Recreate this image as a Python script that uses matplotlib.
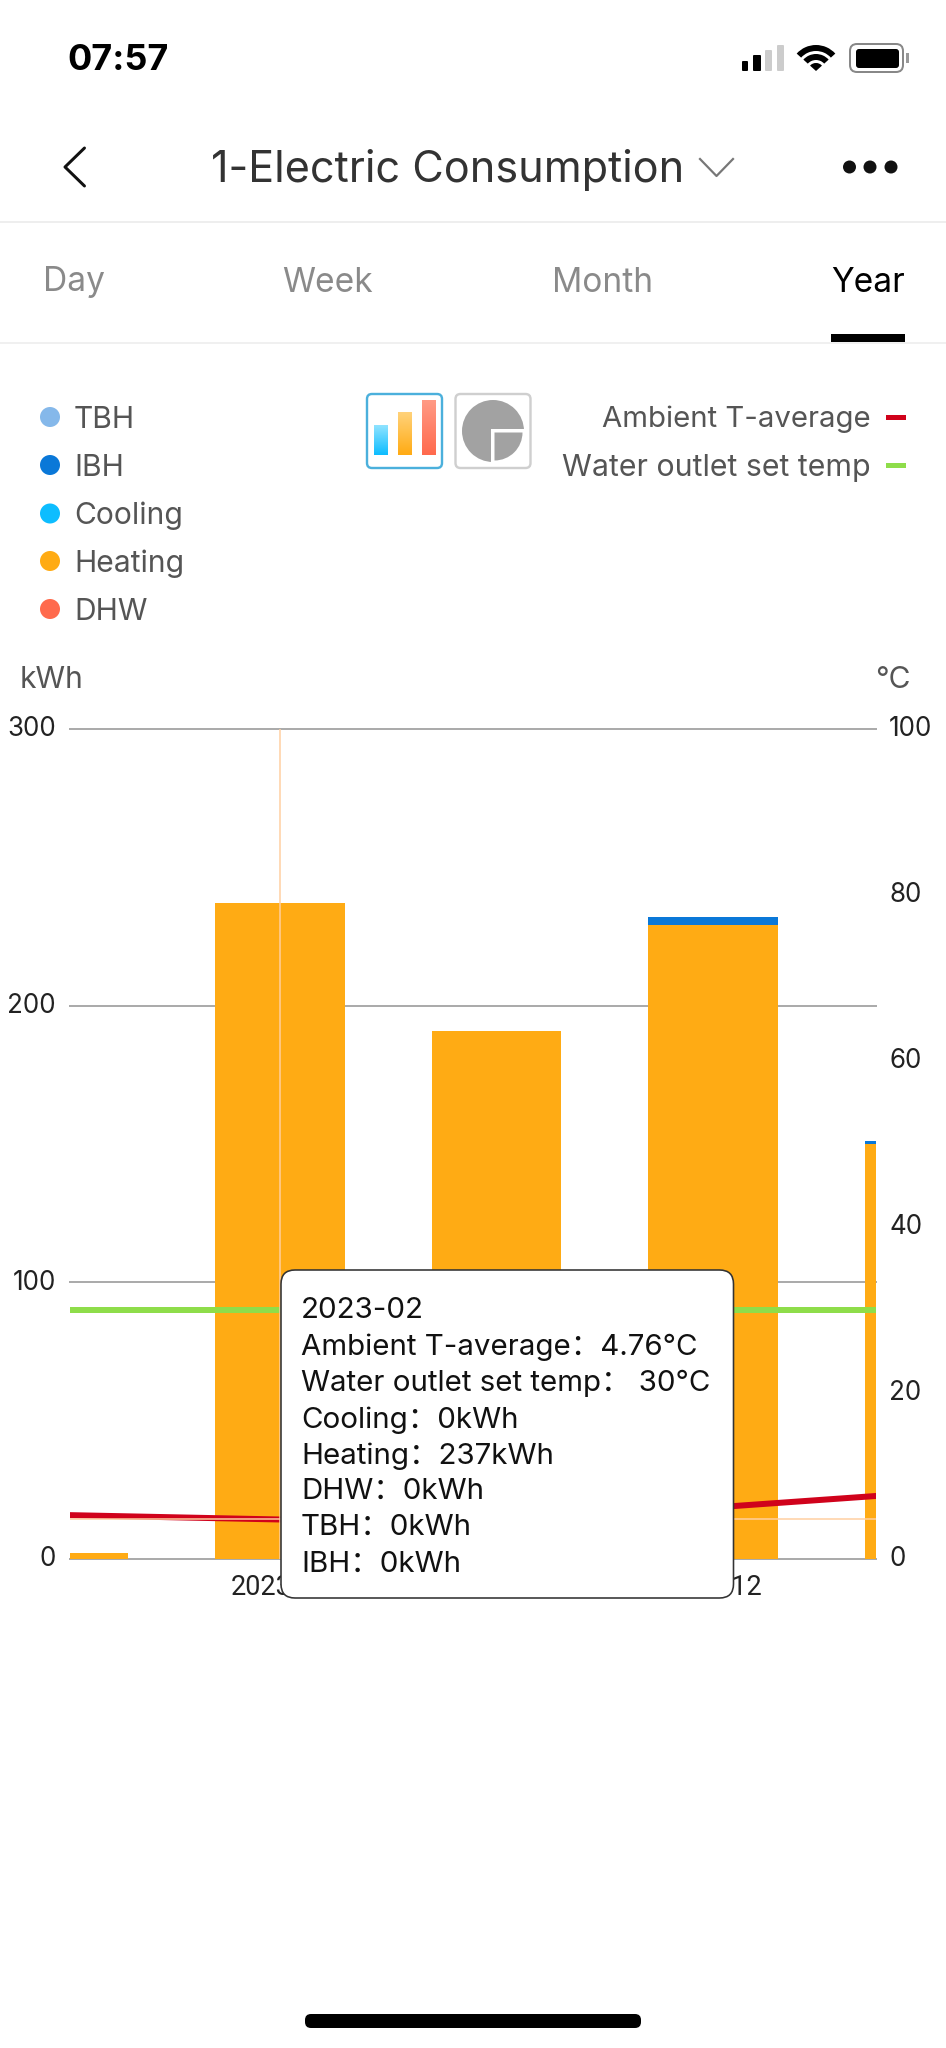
import matplotlib
matplotlib.use("Agg")
import matplotlib.pyplot as plt
import numpy as np
from matplotlib.patches import Circle, FancyBboxPatch, Rectangle, Wedge
from matplotlib.colors import LinearSegmentedColormap
from matplotlib.transforms import ScaledTranslation

# ---- data ----
months = ["2023-03", "2023-02", "2023-01", "2022-12", "2022-11"]
heating = [2, 237, 191, 229, 150]
ibh = [0, 0, 0, 3, 1]
cooling = [0, 0, 0, 0, 0]
dhw = [0, 0, 0, 0, 0]
tbh = [0, 0, 0, 0, 0]
ambient = [5.3, 4.76, 5.0, 6.2, 8.05]
water_set = [30, 30, 30, 30, 30]
left_ticks = [0, 100, 200, 300]
right_ticks = [0, 20, 40, 60, 80, 100]
shown_labels = ["2023-02", "2022-12"]
legend_left = ["TBH", "IBH", "Cooling", "Heating", "DHW"]
legend_right = ["Ambient T-average", "Water outlet set temp"]
tabs = ["Day", "Week", "Month", "Year"]
selected = 1

C_TBH, C_IBH, C_COOL, C_HEAT, C_DHW = "#85B8EA", "#0A78D8", "#0DBDFF", "#FFAB14", "#FF6A4D"
C_RED, C_GREEN = "#D0021B", "#8EDD4A"
C_CROSS = "#FFCFA0"
W, H = 946, 2048
FONT = ["Inter", "Noto Sans CJK SC", "DejaVu Sans"]
plt.rcParams["font.family"] = FONT
px = 0.72  # px -> pt at dpi 100

fig = plt.figure(figsize=(W / 100, H / 100), dpi=100, facecolor="white")
L, R, T, B = 70, 876, 729, 1559
ax = fig.add_axes([L / W, 1 - B / H, (R - L) / W, (B - T) / H], zorder=1)
x = np.arange(len(months))
ax.set_xlim((L - 63.5) / 216.5, (R - 63.5) / 216.5)
ax.set_ylim(0, 300)
ax.set_yticks(left_ticks)
ax.set_xticks([months.index(m) for m in shown_labels], shown_labels)
ax.tick_params(axis="both", length=0, labelsize=26 * px, labelcolor="#222222")
ax.tick_params(axis="y", pad=14 * px)
ax.tick_params(axis="x", pad=15 * px)
for s in ax.spines.values():
    s.set_visible(False)
ax.yaxis.grid(True, color="#ABABAB", lw=2 * px, zorder=0, clip_on=False)
ax.set_axisbelow(True)
for lab in ax.get_xticklabels():
    lab.set_fontfamily(["Roboto", "DejaVu Sans"])
    lab.set_fontsize(27 * px)
h = np.array(heating)
ax.bar(x, h, width=0.6, color=C_HEAT, zorder=2)
ax.bar(x, ibh, bottom=h, width=0.6, color=C_IBH, zorder=2)

ax2 = ax.twinx()
ax2.set_ylim(0, 100)
ax2.set_yticks(right_ticks)
ax2.tick_params(axis="y", length=0, labelsize=26 * px, labelcolor="#222222", pad=13 * px)
for s in ax2.spines.values():
    s.set_visible(False)
ax2.plot(x, water_set, color=C_GREEN, lw=6 * px, solid_capstyle="butt", zorder=3)
ax2.plot(x, ambient, color=C_RED, lw=6 * px, solid_capstyle="butt", zorder=4)
sel_t = ambient[selected]
ax2.axhline(sel_t, color=C_CROSS, lw=1.5 * px, zorder=5)
ax2.axvline(selected, color=C_CROSS, lw=1.5 * px, zorder=5)

shift = ScaledTranslation(0, 2.5 / 100, fig.dpi_scale_trans)
for lab in ax.get_yticklabels() + ax2.get_yticklabels():
    lab.set_transform(lab.get_transform() + shift)

# ---- overlay in pixel coordinates ----
ov = fig.add_axes([0, 0, 1, 1], zorder=10)
ov.set_xlim(0, W)
ov.set_ylim(H, 0)
ov.axis("off")
ov.patch.set_alpha(0)


def txt(xp, yp, s, size, color="#222222", ha="left", weight="normal"):
    return ov.text(xp, yp + 2.5, s, fontsize=size * px, color=color, ha=ha, va="center", fontweight=weight)


def rect(x0, y0, x1, y1, color, **kw):
    ov.add_patch(Rectangle((x0, y0), x1 - x0, y1 - y0, facecolor=color, edgecolor="none", **kw))


# status bar
txt(67, 58.5, "07:57", 36, "#000000", weight="bold")
for (a, b, top, col) in [(742, 748, 61, "#000"), (753, 761, 55, "#000"), (765, 772, 50, "#CCCCCC"), (777, 784, 45, "#CCCCCC")]:
    ov.add_patch(FancyBboxPatch((a + 1, top + 1), b - a - 2, 71 - top - 2, boxstyle="round,pad=1", fc=col, ec="none"))
for r, w_ in [(26, 6), (17, 6), (8, 8)]:
    ov.add_patch(Wedge((816, 71), r, 222, 318, width=w_, fc="#000", ec="none"))
ov.add_patch(FancyBboxPatch((852, 46), 49, 24, boxstyle="round,pad=2,rounding_size=7", fc="white", ec="#888888", lw=2 * px))
ov.add_patch(FancyBboxPatch((857, 50), 41, 17, boxstyle="round,pad=1,rounding_size=3", fc="#000", ec="none"))
rect(906, 53, 909, 63, "#999999")

# navigation bar
ov.plot([84.5, 65, 84.5], [148, 167, 186], color="#111111", lw=3 * px, solid_capstyle="round", solid_joinstyle="round")
txt(211, 167.5, "1-Electric Consumption", 43.2, "#333333")
ov.plot([700, 716.5, 733], [159, 176, 159], color="#777777", lw=2.2 * px)
for cx in (849.5, 870, 891):
    ov.add_patch(Circle((cx, 167), 6.5, fc="#111111", ec="none"))
rect(0, 221, W, 223, "#EEEEEE")

# tabs
for name, cx, col in zip(tabs, (73.5, 327.5, 602.5, 868), ("#8A8A8A", "#8A8A8A", "#8A8A8A", "#000000")):
    txt(cx, 280, name, 33.5, col, ha="center")
rect(0, 342, W, 344, "#F0F0F0")
rect(831, 334, 905, 342, "#000000")

# left legend
for name, col, y in zip(legend_left, (C_TBH, C_IBH, C_COOL, C_HEAT, C_DHW), (417, 465, 513.5, 561, 609)):
    ov.add_patch(Circle((50, y), 10, fc=col, ec="none"))
    txt(74, y, name, 30, "#555555")

# right legend
for name, col, y, size in zip(legend_right, (C_RED, C_GREEN), (417, 465), (29.4, 30.3)):
    txt(870.5, y, name, size, "#555555", ha="right")
    rect(886, y - 2.5, 906, y + 2.5, col)

# chart-type icons
ov.add_patch(FancyBboxPatch((369, 396), 71, 70, boxstyle="round,pad=2,rounding_size=5", fc="white", ec="#4BB0DC", lw=2.4 * px))
ov.add_patch(FancyBboxPatch((457.5, 396), 71, 70, boxstyle="round,pad=2,rounding_size=5", fc="white", ec="#CFCFCF", lw=2.4 * px))
g = np.linspace(0, 1, 64).reshape(-1, 1)
for (a, b, top, c_top, c_bot) in [(373.5, 387, 425.5, "#8FE3FF", "#0DBDFF"), (397.5, 411.5, 413, "#FFD27A", "#FFAB14"), (422, 435.5, 400.5, "#FF9A85", "#FF6A4D")]:
    cm = LinearSegmentedColormap.from_list("g", [c_top, c_bot])
    ov.imshow(g, extent=(a, b, 455.5, top), cmap=cm, aspect="auto", zorder=3)
ov.set_xlim(0, W)
ov.set_ylim(H, 0)
ov.add_patch(Circle((493, 431), 31, fc="#A2A2A2", ec="none", zorder=3))
rect(491, 428.5, 526, 464, "white", zorder=4)
ov.add_patch(Wedge((494.5, 432.5), 28, 0, 90, fc="#A2A2A2", ec="none", zorder=5))

# axis units
txt(20, 677, "kWh", 30, "#555555")
txt(911, 677, "°C", 30, "#555555", ha="right")

# tooltip
ov.add_patch(FancyBboxPatch((293, 1282), 428.5, 304, boxstyle="round,pad=12,rounding_size=14", fc="white", ec="#333333", lw=1.6 * px, zorder=20))
i = selected
lines = [
    months[i],
    f"{legend_right[0]}：{ambient[i]}°C",
    f"{legend_right[1]}： {water_set[i]}°C",
    f"Cooling：{cooling[i]}kWh",
    f"Heating：{heating[i]}kWh",
    f"DHW：{dhw[i]}kWh",
    f"TBH：{tbh[i]}kWh",
    f"IBH：{ibh[i]}kWh",
]
for s, y in zip(lines, (1308, 1345, 1381, 1418, 1454, 1489, 1525, 1562)):
    txt(301, y, s, 29.5, "#111111").set_zorder(21)

# home indicator
ov.add_patch(FancyBboxPatch((311, 2020), 324, 2, boxstyle="round,pad=6", fc="#000000", ec="none"))

fig.savefig("out.png", dpi=100, facecolor="white")
